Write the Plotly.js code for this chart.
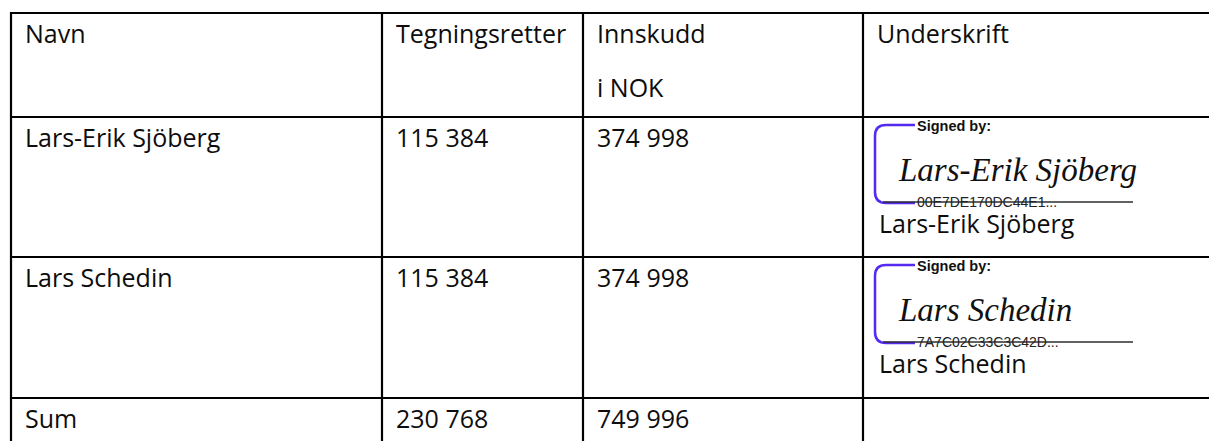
<!DOCTYPE html>
<html>
<head>
<meta charset="utf-8">
<script src="https://cdn.plot.ly/plotly-3.0.1.min.js"></script>
<style>
  html, body { margin: 0; padding: 0; background: #ffffff; overflow: hidden; }
  #chart { width: 1209px; height: 441px; }
</style>
</head>
<body>
<div id="chart"></div>
<script>
// ---- data ----
const headers = [["Navn"], ["Tegningsretter"], ["Innskudd", "i NOK"], ["Underskrift"]];
const names = ["Lars-Erik Sjöberg", "Lars Schedin", "Sum"];
const tegningsretter = [115384, 115384, 230768];
const innskuddNOK = [374998, 374998, 749996];
const signers = ["Lars-Erik Sjöberg", "Lars Schedin"];
const signatureIds = ["00E7DE170DC44E1...", "7A7C02C33C3C42D..."];
const signedByLabel = "Signed by:";

// ---- layout geometry (pixels, 1 axis unit = 1 px) ----
const W = 1209, H = 441;
const colEdges = [11, 382, 583, 863, 1240];
const rowEdges = [13, 117, 257, 398, 520];
const textPad = 13;
const baselineOffset = 30;
const headerLinePitch = 54;
const FS = 25;
const mainFont = { family: "Open Sans, Noto Sans, sans-serif", size: FS, color: "#0d0d0d" };
const OS_MID = 0.388; // (ascent - descent)/2 for Open Sans
const AR_MID = 0.3465; // for Liberation Sans

function fmt(n) {
  return String(n).replace(/\B(?=(\d{3})+(?!\d))/g, " ");
}

const annotations = [];
const shapes = [];

function addText(text, x, baseline, font, mid) {
  annotations.push({
    xref: "x", yref: "y", x: x, y: baseline - mid * font.size,
    xanchor: "left", yanchor: "middle", showarrow: false,
    text: text, font: font, borderpad: 0
  });
}

// grid lines
rowEdges.slice(0, 4).forEach(function (y) {
  shapes.push({ type: "line", xref: "x", yref: "y", x0: colEdges[0] - 1, x1: W + 20, y0: y, y1: y,
    line: { color: "#000000", width: 2.2 } });
});
colEdges.slice(0, 4).forEach(function (x) {
  shapes.push({ type: "line", xref: "x", yref: "y", x0: x, x1: x, y0: rowEdges[0] - 1, y1: H + 20,
    line: { color: "#000000", width: 2.2 } });
});

// header texts
headers.forEach(function (lines, c) {
  lines.forEach(function (line, k) {
    addText(line, colEdges[c] + textPad, rowEdges[0] + baselineOffset + k * headerLinePitch, mainFont, OS_MID);
  });
});

// body cells
names.forEach(function (nm, r) {
  const base = rowEdges[r + 1] + baselineOffset;
  addText(nm, colEdges[0] + textPad, base, mainFont, OS_MID);
  addText(fmt(tegningsretter[r]), colEdges[1] + textPad, base, mainFont, OS_MID);
  addText(fmt(innskuddNOK[r]), colEdges[2] + textPad, base, mainFont, OS_MID);
});

// signature blocks
const sigLeft = colEdges[3];
signers.forEach(function (s, i) {
  const T = rowEdges[i + 1];
  const bx = sigLeft + 12, rad = 11, top = T + 8, bot = T + 86, ex = sigLeft + 52;
  shapes.push({
    type: "path", xref: "x", yref: "y",
    path: "M " + ex + " " + top + " L " + (bx + rad) + " " + top +
          " Q " + bx + " " + top + " " + bx + " " + (top + rad) +
          " L " + bx + " " + (bot - rad) +
          " Q " + bx + " " + bot + " " + (bx + rad) + " " + bot +
          " L " + ex + " " + bot,
    line: { color: "#5429f2", width: 2.5 }
  });
  shapes.push({ type: "line", xref: "x", yref: "y", x0: sigLeft + 20, x1: sigLeft + 270,
    y0: T + 85, y1: T + 85, line: { color: "#2e2e2e", width: 1.3 } });
  addText("<b>" + signedByLabel + "</b>", sigLeft + 53, T + 14,
    { family: "Liberation Sans, Arial, sans-serif", size: 14.5, color: "#111111" }, AR_MID);
  annotations.push({
    xref: "x", yref: "y", x: sigLeft + 34, y: T + 53, xanchor: "left", yanchor: "middle",
    showarrow: false, text: s, borderpad: 0,
    font: { family: "Liberation Serif, serif", size: 33, style: "italic", color: "#111111" }
  });
  addText(signatureIds[i], sigLeft + 53, T + 90,
    { family: "Liberation Sans, Arial, sans-serif", size: 14, color: "#222222" }, AR_MID);
  addText(s, sigLeft + 15, T + 116, mainFont, OS_MID);
});

const layout = {
  width: W, height: H,
  margin: { l: 0, r: 0, t: 0, b: 0, pad: 0 },
  paper_bgcolor: "#ffffff", plot_bgcolor: "#ffffff",
  xaxis: { range: [0, W], visible: false, fixedrange: true },
  yaxis: { range: [H, 0], visible: false, fixedrange: true },
  showlegend: false,
  shapes: shapes,
  annotations: annotations
};

Plotly.newPlot("chart", [{ type: "scatter", x: [], y: [], mode: "markers", hoverinfo: "skip" }], layout,
  { staticPlot: true, displayModeBar: false });
</script>
</body>
</html>
